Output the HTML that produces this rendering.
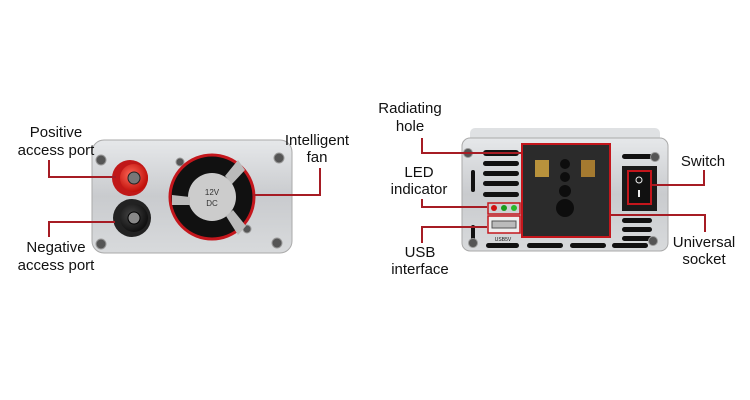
<!DOCTYPE html>
<html><head><style>
body{margin:0;background:#fff;}
svg{display:block}
text{font-family:"Liberation Sans",sans-serif;font-size:15px;fill:#111;text-anchor:middle}
</style></head><body>
<svg width="750" height="400" viewBox="0 0 750 400">
<defs>
<linearGradient id="al" x1="0" y1="0" x2="0" y2="1">
<stop offset="0" stop-color="#e6e8ea"/><stop offset="0.5" stop-color="#c9cbce"/><stop offset="1" stop-color="#d8dadc"/></linearGradient>
<radialGradient id="red" cx="0.4" cy="0.4" r="0.6"><stop offset="0" stop-color="#ff6a5a"/><stop offset="1" stop-color="#c0100a"/></radialGradient>
<radialGradient id="blk" cx="0.4" cy="0.4" r="0.6"><stop offset="0" stop-color="#444"/><stop offset="1" stop-color="#111"/></radialGradient>
</defs>
<!-- LEFT DEVICE -->
<rect x="92" y="140" width="200" height="113" rx="12" fill="url(#al)" stroke="#aaa"/>
<g fill="#555" stroke="#999"><circle cx="101" cy="160" r="5"/><circle cx="101" cy="244" r="5"/><circle cx="279" cy="158" r="5"/><circle cx="277" cy="243" r="5"/><circle cx="180" cy="162" r="4"/><circle cx="247" cy="229" r="4"/></g>
<circle cx="130" cy="178" r="18" fill="#c01818"/><circle cx="134" cy="178" r="14" fill="url(#red)"/><circle cx="134" cy="178" r="6" fill="#777" stroke="#222"/>
<circle cx="132" cy="218" r="19" fill="#222"/><circle cx="134" cy="218" r="14" fill="url(#blk)"/><circle cx="134" cy="218" r="6" fill="#888" stroke="#000"/>
<circle cx="212" cy="197" r="42" fill="#111" stroke="#c4161c" stroke-width="3"/>
<circle cx="212" cy="197" r="24" fill="#ccc"/>
<path d="M225 176 L238 160 L245 170 L232 184Z M190 197 L172 195 L172 205 L190 205Z M226 216 L238 235 L246 226 L233 210Z" fill="#bbb"/>
<text x="212" y="195" style="font-size:8px;fill:#333">12V</text><text x="212" y="206" style="font-size:8px;fill:#333">DC</text>
<!-- RIGHT DEVICE -->
<rect x="470" y="128" width="190" height="14" rx="5" fill="#dfe1e3"/>
<rect x="462" y="138" width="206" height="113" rx="8" fill="url(#al)" stroke="#aaa"/>
<g fill="#111"><rect x="483" y="150" width="36" height="6" rx="3"/><rect x="483" y="161" width="36" height="5" rx="2.5"/><rect x="483" y="171" width="36" height="5" rx="2.5"/><rect x="483" y="181" width="36" height="5" rx="2.5"/><rect x="483" y="192" width="36" height="5" rx="2.5"/>
<rect x="471" y="170" width="4" height="22" rx="2"/><rect x="471" y="225" width="4" height="16" rx="2"/>
<rect x="486" y="243" width="33" height="5" rx="2.5"/><rect x="527" y="243" width="36" height="5" rx="2.5"/><rect x="570" y="243" width="36" height="5" rx="2.5"/><rect x="612" y="243" width="36" height="5" rx="2.5"/>
<rect x="622" y="154" width="30" height="5" rx="2.5"/><rect x="622" y="218" width="30" height="5" rx="2.5"/><rect x="622" y="227" width="30" height="5" rx="2.5"/><rect x="622" y="236" width="30" height="5" rx="2.5"/></g>
<g fill="#555" stroke="#999"><circle cx="468" cy="153" r="4.5"/><circle cx="655" cy="157" r="4.5"/><circle cx="473" cy="243" r="4.5"/><circle cx="653" cy="241" r="4.5"/></g>
<rect x="522" y="144" width="88" height="93" fill="#2b2b2b" stroke="#c4161c" stroke-width="2"/>
<rect x="535" y="160" width="14" height="17" fill="#b8923c"/><rect x="581" y="160" width="14" height="17" fill="#a57a30"/>
<g fill="#0d0d0d"><circle cx="565" cy="164" r="5"/><circle cx="565" cy="177" r="5"/><circle cx="565" cy="191" r="6"/><circle cx="565" cy="208" r="9"/></g>
<rect x="622" y="166" width="35" height="45" fill="#1a1a1a"/>
<rect x="628" y="171" width="23" height="33" fill="#111" stroke="#c4161c" stroke-width="2"/>
<circle cx="639" cy="180" r="3" fill="none" stroke="#eee"/><rect x="638" y="190" width="2" height="7" fill="#eee"/>
<rect x="488" y="203" width="32" height="11" fill="none" stroke="#c4161c" stroke-width="1.5"/>
<circle cx="494" cy="208" r="3" fill="#d01010"/><circle cx="504" cy="208" r="3" fill="#1a9a1a"/><circle cx="514" cy="208" r="3" fill="#2ab82a"/>
<rect x="488" y="216" width="32" height="17" fill="#eee" stroke="#c4161c" stroke-width="1.5"/><rect x="492" y="221" width="24" height="7" fill="#bbb" stroke="#555"/>
<text x="503" y="241" style="font-size:5px">USB5V</text>
<!-- LEADER LINES -->
<g stroke="#a61c24" stroke-width="2" fill="none">
<polyline points="49,160 49,177 116,177"/>
<polyline points="49,237 49,222 115,222"/>
<polyline points="320,168 320,195 253,195"/>
<polyline points="422,138 422,153 521,153"/>
<polyline points="422,199 422,207 487,207"/>
<polyline points="422,243 422,227 487,227"/>
<polyline points="704,170 704,185 652,185"/>
<polyline points="705,232 705,215 611,215"/>
</g>
<!-- LABELS -->
<text x="56" y="137">Positive</text><text x="56" y="155">access port</text>
<text x="56" y="252">Negative</text><text x="56" y="270">access port</text>
<text x="317" y="145">Intelligent</text><text x="317" y="162">fan</text>
<text x="410" y="113">Radiating</text><text x="410" y="131">hole</text>
<text x="419" y="177">LED</text><text x="419" y="194">indicator</text>
<text x="420" y="257">USB</text><text x="420" y="274">interface</text>
<text x="703" y="166">Switch</text>
<text x="704" y="247">Universal</text><text x="704" y="264">socket</text>
</svg>
</body></html>
